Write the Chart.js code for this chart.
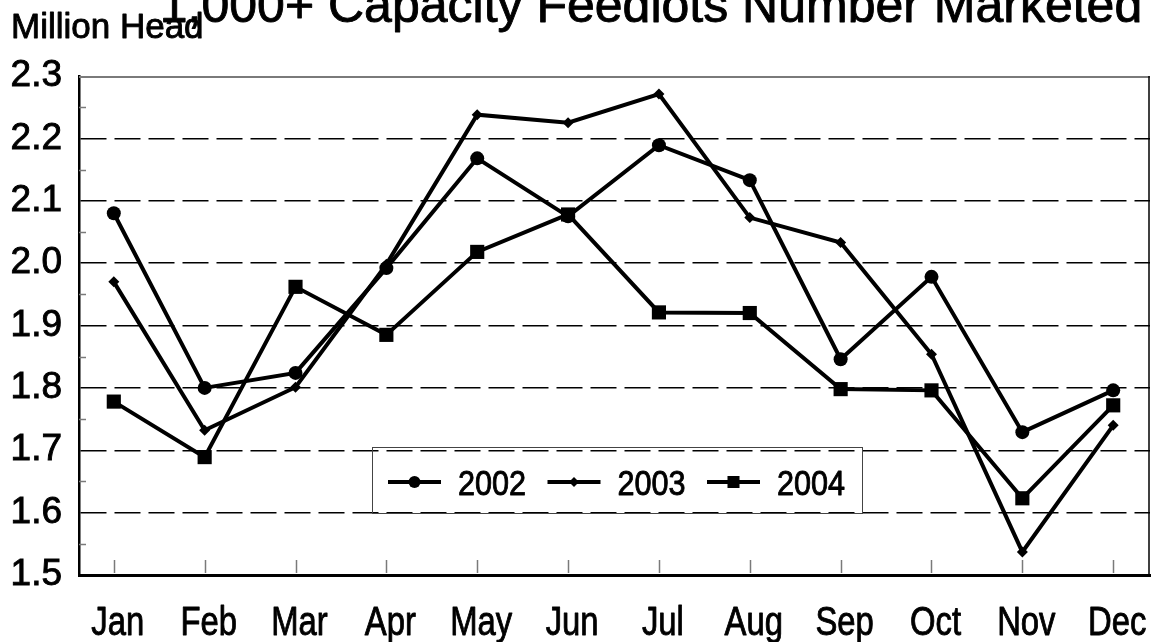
<!DOCTYPE html>
<html>
<head>
<meta charset="utf-8">
<script src="https://cdn.jsdelivr.net/npm/chart.js@4.4.1/dist/chart.umd.min.js"></script>
<style>
  html, body { margin: 0; padding: 0; background: #fff; }
  #wrap { width: 1160px; height: 642px; }
</style>
</head>
<body>
<div id="wrap"><canvas id="feedlotChart" width="1160" height="642"></canvas></div>
<script>
/* 1,000+ capacity feedlots, number marketed (million head) */
const months = ['Jan', 'Feb', 'Mar', 'Apr', 'May', 'Jun', 'Jul', 'Aug', 'Sep', 'Oct', 'Nov', 'Dec'];
const years = ['2002', '2003', '2004'];
const marketed2002 = [2.08, 1.80, 1.824, 1.992, 2.168, 2.075, 2.189, 2.133, 1.846, 1.978, 1.729, 1.796];
const marketed2003 = [1.970, 1.732, 1.801, 1.998, 2.238, 2.225, 2.271, 2.073, 2.033, 1.854, 1.537, 1.740];
const marketed2004 = [1.778, 1.689, 1.962, 1.885, 2.018, 2.078, 1.921, 1.920, 1.798, 1.796, 1.623, 1.772];
const yMin = 1.5, yMax = 2.3, yStep = 0.1;

const titleText = '1,000+ Capacity Feedlots Number Marketed';
const unitText = 'Million Head';
const fontFamily = '"Liberation Sans", Arial, sans-serif';

const seriesStyle = [
  { style: 'circle', radius: 7, legendRadius: 6 },
  { style: 'rectRot', radius: 5.5, legendRadius: 5 },
  { style: 'rect', radius: 10, legendRadius: 8.5 }
];

const toPoints = vals => vals.map((v, i) => ({ x: i, y: v }));

const datasets = [marketed2002, marketed2003, marketed2004].map((vals, i) => ({
  label: years[i],
  data: toPoints(vals),
  borderColor: '#000',
  backgroundColor: '#000',
  borderWidth: 4,
  pointStyle: seriesStyle[i].style,
  pointRadius: seriesStyle[i].radius,
  pointBorderWidth: 0,
  pointBackgroundColor: '#000',
  tension: 0
}));

// draw text squeezed sideways (the source uses a narrow face), slightly heavier
function narrowText(ctx, text, x, y, squeeze, align) {
  ctx.save();
  ctx.translate(x, y);
  ctx.scale(squeeze, 1);
  ctx.textAlign = align;
  ctx.strokeStyle = '#000';
  ctx.lineWidth = 0.9;
  ctx.lineJoin = 'round';
  ctx.fillText(text, 0, 0);
  ctx.strokeText(text, 0, 0);
  ctx.restore();
}

// frame, inside tick marks, month labels
const framePlugin = {
  id: 'frame',
  afterDraw(chart) {
    const { ctx, chartArea: a, scales: { x, y } } = chart;
    ctx.save();
    // top edge
    ctx.strokeStyle = '#7a7a7a';
    ctx.lineWidth = 2;
    ctx.beginPath(); ctx.moveTo(a.left, a.top + 1); ctx.lineTo(a.right, a.top + 1); ctx.stroke();
    // right edge
    ctx.strokeStyle = '#000';
    ctx.lineWidth = 1.5;
    ctx.beginPath(); ctx.moveTo(a.right - 1, a.top); ctx.lineTo(a.right - 1, a.bottom); ctx.stroke();
    // month ticks pointing up
    ctx.strokeStyle = '#7a7a7a';
    ctx.lineWidth = 1.5;
    months.forEach((m, i) => {
      const px = Math.round(x.getPixelForValue(i)) + 0.5;
      ctx.beginPath(); ctx.moveTo(px, a.bottom - 2); ctx.lineTo(px, a.bottom - 15); ctx.stroke();
    });
    // minor ticks on value axis
    for (let v = yMin + yStep / 2; v < yMax; v += yStep) {
      const py = Math.round(y.getPixelForValue(v)) + 0.5;
      ctx.beginPath(); ctx.moveTo(a.left, py); ctx.lineTo(a.left + 7, py); ctx.stroke();
    }
    // month labels
    ctx.fillStyle = '#000';
    ctx.font = '40px ' + fontFamily;
    ctx.textBaseline = 'alphabetic';
    months.forEach((m, i) => {
      narrowText(ctx, m, x.getPixelForValue(i) + 4, a.bottom + 60, 0.82, 'center');
    });
    ctx.restore();
  }
};

// cut-off title + unit label
const titlePlugin = {
  id: 'titles',
  afterDraw(chart) {
    const { ctx } = chart;
    ctx.save();
    ctx.fillStyle = '#000';
    ctx.textBaseline = 'alphabetic';
    ctx.font = '50px ' + fontFamily;
    narrowText(ctx, titleText, 651, 22, 1.0, 'center');
    ctx.font = '35px ' + fontFamily;
    narrowText(ctx, unitText, 11, 38, 1.0, 'left');
    ctx.restore();
  }
};

// boxed legend inside plot
const legendPlugin = {
  id: 'boxLegend',
  afterDraw(chart) {
    const { ctx } = chart;
    const box = { left: 372, top: 447, width: 490, height: 66 };
    const cy = 482;
    ctx.save();
    ctx.strokeStyle = '#444';
    ctx.lineWidth = 1;
    ctx.strokeRect(box.left + 0.5, box.top + 0.5, box.width, box.height);
    ctx.font = '35px ' + fontFamily;
    ctx.textBaseline = 'alphabetic';
    years.forEach((yr, i) => {
      const x0 = box.left + 16 + i * 159.5;
      ctx.strokeStyle = '#000';
      ctx.lineWidth = 4;
      ctx.beginPath(); ctx.moveTo(x0, cy); ctx.lineTo(x0 + 53, cy); ctx.stroke();
      ctx.fillStyle = '#000';
      Chart.helpers.drawPoint(ctx, {
        pointStyle: seriesStyle[i].style,
        radius: seriesStyle[i].legendRadius,
        rotation: 0,
        borderWidth: 0
      }, x0 + 26.5, cy);
      ctx.fillStyle = '#000';
      narrowText(ctx, yr, x0 + 70, 495, 0.875, 'left');
    });
    ctx.restore();
  }
};

const config = {
  type: 'line',
  data: { datasets: datasets },
  options: {
    responsive: false,
    animation: false,
    devicePixelRatio: 1,
    layout: { padding: { top: 76, right: 4, left: 0, bottom: 0 } },
    plugins: {
      legend: { display: false },
      tooltip: { enabled: false },
      title: { display: false }
    },
    scales: {
      x: {
        type: 'linear',
        min: -0.383,
        max: 11.405,
        afterBuildTicks: axis => { axis.ticks = months.map((m, i) => ({ value: i })); },
        afterFit: axis => { axis.height = 67; },
        grid: { display: false, drawTicks: false },
        border: { display: true, color: '#000', width: 3 },
        ticks: { display: false }
      },
      y: {
        min: yMin,
        max: yMax,
        afterFit: axis => { axis.width = 79; },
        grid: {
          drawTicks: false,
          lineWidth: 1.5,
          color: c => (c.tick && (Math.abs(c.tick.value - yMin) < 1e-6 || Math.abs(c.tick.value - yMax) < 1e-6)) ? 'rgba(0,0,0,0)' : '#000'
        },
        border: { display: true, color: '#000', width: 2.5, dash: [26, 8] },
        ticks: {
          stepSize: yStep,
          color: '#000',
          padding: 17,
          textStrokeColor: '#000',
          textStrokeWidth: 0.9,
          font: { family: fontFamily, size: 37 },
          callback: v => Number(v).toFixed(1)
        }
      }
    }
  },
  plugins: [framePlugin, titlePlugin, legendPlugin]
};

var feedlotChart = new Chart(
  document.getElementById('feedlotChart'),
  config
);
</script>
</body>
</html>
